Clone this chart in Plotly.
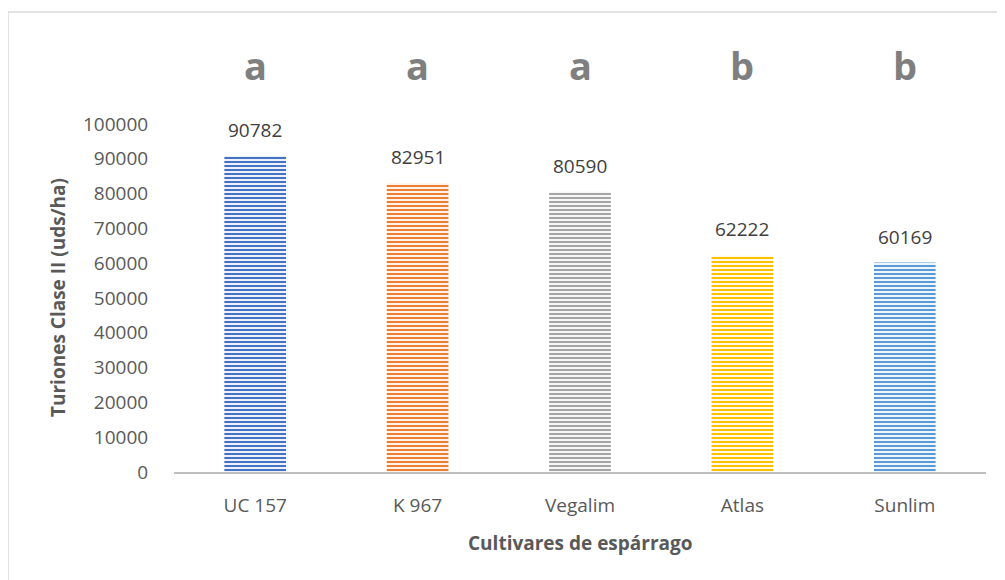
import plotly.graph_objects as go

categories = ["UC 157", "K 967", "Vegalim", "Atlas", "Sunlim"]
values = [90782, 82951, 80590, 62222, 60169]
letters = ["a", "a", "a", "b", "b"]
fg_colors = ["#4472C4", "#ED7D31", "#A5A5A5", "#FFC000", "#5B9BD5"]
bg_colors = ["#BFD0EF", "#FAD0B2", "#E4E4E4", "#FFE699", "#C5DCF1"]
y_ticks = list(range(0, 100001, 10000))

OFF = 8  # page body offset
W, H = 1005 - OFF, 580 - OFF
# plot area in window coords
L, R, T, B = 174 - OFF, 986 - OFF, 124 - OFF, 472 - OFF

FONT = "Open Sans"
TXT = "#595959"

fig = go.Figure()
fig.add_trace(go.Bar(
    x=categories, y=values,
    marker=dict(
        color=fg_colors,
        line=dict(width=0),
        pattern=dict(shape="-", fgcolor=fg_colors, bgcolor=bg_colors,
                     fillmode="replace", size=4, solidity=0.55),
    ),
    cliponaxis=False, width=0.38, hoverinfo="x+y",
))

pw, ph = R - L, B - T
def px(x): return (x - OFF - L) / pw   # window x -> paper
def py(y): return (B - (y - OFF)) / ph  # window y -> paper

# value labels
for c, v in zip(categories, values):
    fig.add_annotation(x=c, y=v, text=str(v), showarrow=False,
                       yanchor="middle", yshift=26,
                       font=dict(size=19, color="#404040", family=FONT))

# significance letters
for c, l in zip(categories, letters):
    fig.add_annotation(x=c, xref="x", y=py(65), yref="paper",
                       text="<b>%s</b>" % l, showarrow=False, yanchor="middle",
                       font=dict(size=38, color="#7F7F7F", family=FONT))

# axis titles
fig.add_annotation(x=px(58), xref="paper", y=py(298), yref="paper",
                   text="<b>Turiones Clase II (uds/ha)</b>", textangle=-90,
                   showarrow=False, xanchor="center", yanchor="middle",
                   font=dict(size=19, color=TXT, family=FONT))
fig.add_annotation(x=px(580), xref="paper", y=py(543), yref="paper",
                   text="<b>Cultivares de espárrago</b>",
                   showarrow=False, xanchor="center", yanchor="middle",
                   font=dict(size=19, color=TXT, family=FONT))

# chart border
fig.add_shape(type="line", xref="paper", yref="paper",
              x0=px(8), x1=px(8), y0=py(12), y1=py(600),
              line=dict(color="#D9D9D9", width=1.5))
fig.add_shape(type="line", xref="paper", yref="paper",
              x0=px(8), x1=px(1020), y0=py(12), y1=py(12),
              line=dict(color="#D9D9D9", width=1.5))

fig.update_layout(
    width=W, height=H,
    margin=dict(l=L, r=W - R, t=T, b=H - B, pad=0),
    plot_bgcolor="white", paper_bgcolor="white",
    showlegend=False,
    font=dict(family=FONT, color=TXT),
    xaxis=dict(showline=True, linecolor="#BFBFBF", linewidth=2,
               ticks="outside", ticklen=15, tickcolor="rgba(0,0,0,0)",
               tickfont=dict(size=19, color=TXT)),
    yaxis=dict(range=[0, 100000], tickvals=y_ticks,
               ticktext=[str(v) for v in y_ticks],
               showgrid=False, zeroline=False, showline=False,
               ticks="outside", ticklen=21, tickcolor="rgba(0,0,0,0)",
               tickfont=dict(size=19, color=TXT)),
)

fig.write_html("out.html")
